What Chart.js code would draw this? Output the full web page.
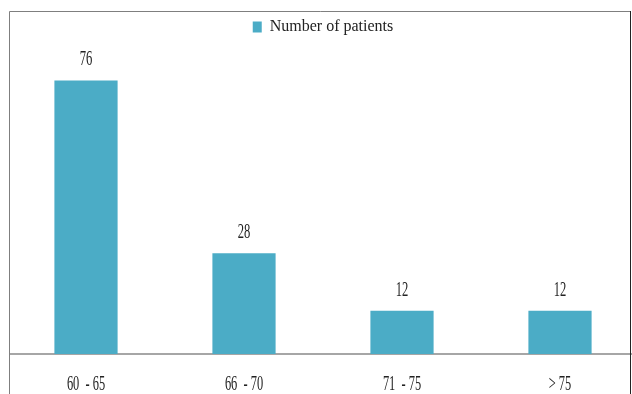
<!DOCTYPE html>
<html>
<head>
<meta charset="utf-8">
<script src="https://cdn.jsdelivr.net/npm/chart.js@4.4.1/dist/chart.umd.min.js"></script>
<style>
  html, body { margin: 0; padding: 0; background: #ffffff; overflow: hidden; }
  #wrap { width: 640px; height: 394px; }
</style>
</head>
<body>
<div id="wrap"><canvas id="ageChart"></canvas></div>
<script>
// Age groups and patient counts
const ageGroups = ["60  - 65", "66  - 70", "71  - 75", "> 75"];
const patientCounts = [76, 28, 12, 12];
const seriesLabel = "Number of patients";

const barColor = "#4bacc6";
const fontFamily = "'Liberation Serif', 'Times New Roman', serif";

// narrow serif text: draw at full height, squeezed horizontally
function drawNarrow(ctx, text, x, y, size, squeeze) {
  ctx.save();
  ctx.translate(x, y);
  ctx.scale(squeeze, 1);
  ctx.font = size + "px " + fontFamily;
  ctx.fillStyle = "#222222";
  ctx.textAlign = "center";
  ctx.textBaseline = "alphabetic";
  ctx.fillText(text, 0, 0);
  ctx.restore();
}

// Frame around the plot (also hides the axis stub left of it)
const framePlugin = {
  id: "frame",
  afterDraw(chart) {
    const ctx = chart.ctx;
    ctx.save();
    ctx.fillStyle = "#ffffff";
    ctx.fillRect(0, 0, 9, 394);
    ctx.lineWidth = 1;
    ctx.strokeStyle = "#7f7f7f";
    ctx.beginPath();
    ctx.moveTo(9.5, 394);
    ctx.lineTo(9.5, 11.5);
    ctx.lineTo(631, 11.5);
    ctx.stroke();
    ctx.strokeStyle = "#222222";
    ctx.beginPath();
    ctx.moveTo(630.5, 11);
    ctx.lineTo(630.5, 394);
    ctx.stroke();
    ctx.restore();
  }
};

// Extra room between the legend and the bars
const legendGap = {
  id: "legendGap",
  beforeInit(chart) {
    const origFit = chart.legend.fit;
    chart.legend.fit = function () {
      origFit.bind(chart.legend)();
      this.height += 21;
    };
  }
};

// Values above the bars and category names under the axis
const textLabels = {
  id: "textLabels",
  afterDatasetsDraw(chart) {
    const ctx = chart.ctx;
    const meta = chart.getDatasetMeta(0);
    const xScale = chart.scales.x;
    meta.data.forEach((bar, i) => {
      drawNarrow(ctx, String(patientCounts[i]), bar.x, bar.y - 15, 21, 0.6);
    });
    ageGroups.forEach((g, i) => {
      drawNarrow(ctx, g, xScale.getPixelForValue(i), 390, 20, 0.62);
    });
  }
};

const ctx = document.getElementById("ageChart").getContext("2d");
new Chart(ctx, {
  type: "bar",
  data: {
    labels: ageGroups,
    datasets: [{
      label: seriesLabel,
      data: patientCounts,
      backgroundColor: barColor,
      borderWidth: 0,
      categoryPercentage: 1.0,
      barPercentage: 0.4
    }]
  },
  options: {
    responsive: true,
    maintainAspectRatio: false,
    animation: false,
    layout: { padding: { left: 7, right: 1, top: 9, bottom: 0 } },
    plugins: {
      legend: {
        display: true,
        position: "top",
        labels: {
          font: { family: fontFamily, size: 16 },
          color: "#222222",
          boxWidth: 9,
          boxHeight: 11,
          padding: 10
        }
      },
      tooltip: { enabled: false }
    },
    scales: {
      x: {
        grid: { display: false },
        border: { display: true, color: "#a6a6a6", width: 2 },
        ticks: { display: false },
        afterFit(scale) { scale.height = 40; }
      },
      y: {
        display: false,
        min: 0,
        max: 80
      }
    }
  },
  plugins: [framePlugin, legendGap, textLabels]
});
</script>
</body>
</html>
